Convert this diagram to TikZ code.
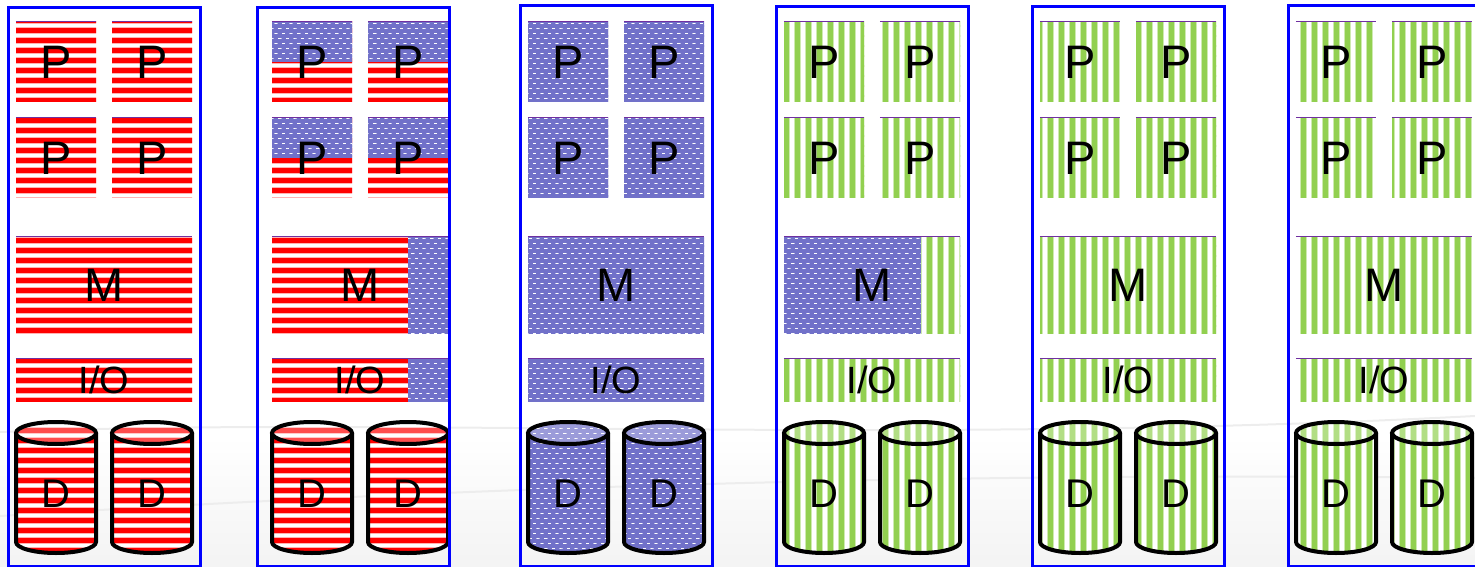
\documentclass[tikz,border=0pt]{standalone}
\usepackage{xcolor}
\usepackage{fontspec}
\setmainfont{Liberation Sans}
\usepackage{tikz}
\usetikzlibrary{patterns}

\definecolor{pgreen}{HTML}{92D050}
\definecolor{pblue}{HTML}{7171C9}
\definecolor{ptop}{HTML}{7030A0}

% fills of the blocks (tiles overlap by 1pt so no seams show)
\pgfdeclarepatterninherentlycolored{redstripes}
{\pgfpoint{-1pt}{-1pt}}{\pgfpoint{11pt}{11pt}}{\pgfpoint{10pt}{10pt}}
{
	\pgfsetfillcolor{white}
	\pgfpathrectangle{\pgfpoint{-1pt}{-1pt}}{\pgfpoint{12pt}{12pt}}\pgfusepath{fill}
	\pgfsetfillcolor{red!30}
	\pgfpathrectangle{\pgfpoint{-1pt}{1.9pt}}{\pgfpoint{12pt}{6.9pt}}\pgfusepath{fill}
	\pgfsetfillcolor{red}
	\pgfpathrectangle{\pgfpoint{-1pt}{2.9pt}}{\pgfpoint{12pt}{4.9pt}}\pgfusepath{fill}
}
\pgfdeclarepatterninherentlycolored{greenstripes}
{\pgfpoint{-1pt}{-1pt}}{\pgfpoint{12pt}{11pt}}{\pgfpoint{11pt}{10pt}}
{
	\pgfsetfillcolor{white}
	\pgfpathrectangle{\pgfpoint{-1pt}{-1pt}}{\pgfpoint{13pt}{12pt}}\pgfusepath{fill}
	\pgfsetfillcolor{pgreen!45}
	\pgfpathrectangle{\pgfpoint{2.2pt}{-1pt}}{\pgfpoint{7.2pt}{12pt}}\pgfusepath{fill}
	\pgfsetfillcolor{pgreen}
	\pgfpathrectangle{\pgfpoint{3.2pt}{-1pt}}{\pgfpoint{5.2pt}{12pt}}\pgfusepath{fill}
}
\newcommand{\dotmark}[2]{%
	\pgfsetfillcolor{white!55!pblue}
	\pgfpathrectangle{\pgfpoint{#1pt-1.8pt}{#2pt-0.9pt}}{\pgfpoint{3.6pt}{1.8pt}}\pgfusepath{fill}
	\pgfsetfillcolor{white}
	\pgfpathrectangle{\pgfpoint{#1pt-1.3pt}{#2pt-0.5pt}}{\pgfpoint{2.6pt}{1pt}}\pgfusepath{fill}
}
\pgfdeclarepatterninherentlycolored{bluedots}
{\pgfpoint{-1pt}{-1pt}}{\pgfpoint{8.6pt}{11pt}}{\pgfpoint{7.6pt}{10pt}}
{
	\pgfsetfillcolor{pblue}
	\pgfpathrectangle{\pgfpoint{-1pt}{-1pt}}{\pgfpoint{9.6pt}{12pt}}\pgfusepath{fill}
	\dotmark{2.3}{2.5}
	\dotmark{9.9}{2.5}
	\dotmark{6.1}{7.5}
	\dotmark{-1.5}{7.5}
}

\begin{document}
\begin{tikzpicture}[
	x=1pt, y=1pt,
	colbox/.style={
		draw=blue,
		line width=3pt
	},
	block/.style={
		inner sep=0pt,
		text=black
	},
	pbox/.style={
		block,
		minimum width=80pt,
		minimum height=80pt,
		font=\fontsize{47}{47}\selectfont
	},
	mbox/.style={
		block,
		minimum width=176pt,
		minimum height=96pt,
		font=\fontsize{47}{47}\selectfont
	},
	iobox/.style={
		block,
		minimum width=176pt,
		minimum height=42pt,
		font=\fontsize{38}{38}\selectfont
	},
	redfill/.style={pattern=redstripes},
	bluefill/.style={pattern=bluedots},
	greenfill/.style={pattern=greenstripes},
	topblue/.style={
		path picture={\fill[pattern=bluedots] (path picture bounding box.north west) rectangle (path picture bounding box.east);}
	},
	rightblue/.style={
		path picture={\fill[pattern=bluedots] ([xshift=-40pt]path picture bounding box.north east) rectangle (path picture bounding box.south east);}
	},
	rightgreen/.style={
		path picture={\fill[pattern=greenstripes] ([xshift=-39pt]path picture bounding box.north east) rectangle (path picture bounding box.south east);}
	},
	topline/.style={
		draw=ptop,
		line width=1pt
	},
	pics/disk/.style={
		code={
			\path[#1] (-40,133) -- (-40,24) arc[start angle=180, end angle=360, x radius=40, y radius=11]
				-- (40,133) arc[start angle=0, end angle=180, x radius=40, y radius=11] -- cycle;
			\fill[white, opacity=.3] (0,133) ellipse[x radius=40, y radius=11];
			\draw[line width=4pt] (-40,133) -- (-40,24) arc[start angle=180, end angle=360, x radius=40, y radius=11] -- (40,133);
			\draw[line width=4pt] (0,133) ellipse[x radius=40, y radius=11];
			\node[font=\fontsize{40}{40}\selectfont] (-lbl) at (0,72) {D};
		}
	}
	]
	\useasboundingbox (0,0) rectangle (1475,566);
	
	% faint slide background
	\shade[top color=white, bottom color=gray!9] (0,0) rectangle (1475,130);
	\draw[gray!14, line width=2pt] (0,134) .. controls (400,150) and (900,120) .. (1475,150);
	\draw[gray!14, line width=2pt] (0,50) .. controls (400,75) and (900,95) .. (1475,88);
	
	% column 1: all red
	\node[pbox,redfill] (c1p1) at (56,504) {P};
	\node[pbox,redfill] (c1p2) at (152,504) {P};
	\node[pbox,redfill] (c1p3) at (56,408) {P};
	\node[pbox,redfill] (c1p4) at (152,408) {P};
	\node[mbox,redfill] (c1m) at (104,281) {M};
	\node[iobox,redfill] (c1io) at (104,186) {I/O};
	\pic (c1d1) at (56,0) {disk=redfill};
	\pic (c1d2) at (152,0) {disk=redfill};
	
	% column 2: red, blue coming in
	\node[pbox,redfill,topblue] (c2p1) at (312,504) {P};
	\node[pbox,redfill,topblue] (c2p2) at (408,504) {P};
	\node[pbox,redfill,topblue] (c2p3) at (312,408) {P};
	\node[pbox,redfill,topblue] (c2p4) at (408,408) {P};
	\node[mbox,redfill,rightblue] (c2m) at (360,281) {M};
	\node[iobox,redfill,rightblue] (c2io) at (360,186) {I/O};
	\pic (c2d1) at (312,0) {disk=redfill};
	\pic (c2d2) at (408,0) {disk=redfill};
	
	% column 3: all blue
	\node[pbox,bluefill] (c3p1) at (568,504) {P};
	\node[pbox,bluefill] (c3p2) at (664,504) {P};
	\node[pbox,bluefill] (c3p3) at (568,408) {P};
	\node[pbox,bluefill] (c3p4) at (664,408) {P};
	\node[mbox,bluefill] (c3m) at (616,281) {M};
	\node[iobox,bluefill] (c3io) at (616,186) {I/O};
	\pic (c3d1) at (568,0) {disk=bluefill};
	\pic (c3d2) at (664,0) {disk=bluefill};
	
	% column 4: green, blue memory left
	\node[pbox,greenfill] (c4p1) at (824,504) {P};
	\node[pbox,greenfill] (c4p2) at (920,504) {P};
	\node[pbox,greenfill] (c4p3) at (824,408) {P};
	\node[pbox,greenfill] (c4p4) at (920,408) {P};
	\node[mbox,bluefill,rightgreen] (c4m) at (872,281) {M};
	\node[iobox,greenfill] (c4io) at (872,186) {I/O};
	\pic (c4d1) at (824,0) {disk=greenfill};
	\pic (c4d2) at (920,0) {disk=greenfill};
	
	% column 5: all green
	\node[pbox,greenfill] (c5p1) at (1080,504) {P};
	\node[pbox,greenfill] (c5p2) at (1176,504) {P};
	\node[pbox,greenfill] (c5p3) at (1080,408) {P};
	\node[pbox,greenfill] (c5p4) at (1176,408) {P};
	\node[mbox,greenfill] (c5m) at (1128,281) {M};
	\node[iobox,greenfill] (c5io) at (1128,186) {I/O};
	\pic (c5d1) at (1080,0) {disk=greenfill};
	\pic (c5d2) at (1176,0) {disk=greenfill};
	
	% column 6: all green
	\node[pbox,greenfill] (c6p1) at (1336,504) {P};
	\node[pbox,greenfill] (c6p2) at (1432,504) {P};
	\node[pbox,greenfill] (c6p3) at (1336,408) {P};
	\node[pbox,greenfill] (c6p4) at (1432,408) {P};
	\node[mbox,greenfill] (c6m) at (1384,281) {M};
	\node[iobox,greenfill] (c6io) at (1384,186) {I/O};
	\pic (c6d1) at (1336,0) {disk=greenfill};
	\pic (c6d2) at (1432,0) {disk=greenfill};
	
	% thin top edges
	\foreach \c in {1,...,6}
		\foreach \b in {p1,p2,p3,p4,m,io}
			\draw[topline] (c\c\b.north west) -- (c\c\b.north east);
	
	% machine frames
	\draw[colbox] (8,0) rectangle (200,558);
	\draw[colbox] (257,0) rectangle (449,558);
	\draw[colbox] (520,0) rectangle (712,560);
	\draw[colbox] (776,0) rectangle (968,559);
	\draw[colbox] (1032,0) rectangle (1224,559);
	\draw[colbox] (1288,0) rectangle (1480,560);
	
\end{tikzpicture}
\end{document}
